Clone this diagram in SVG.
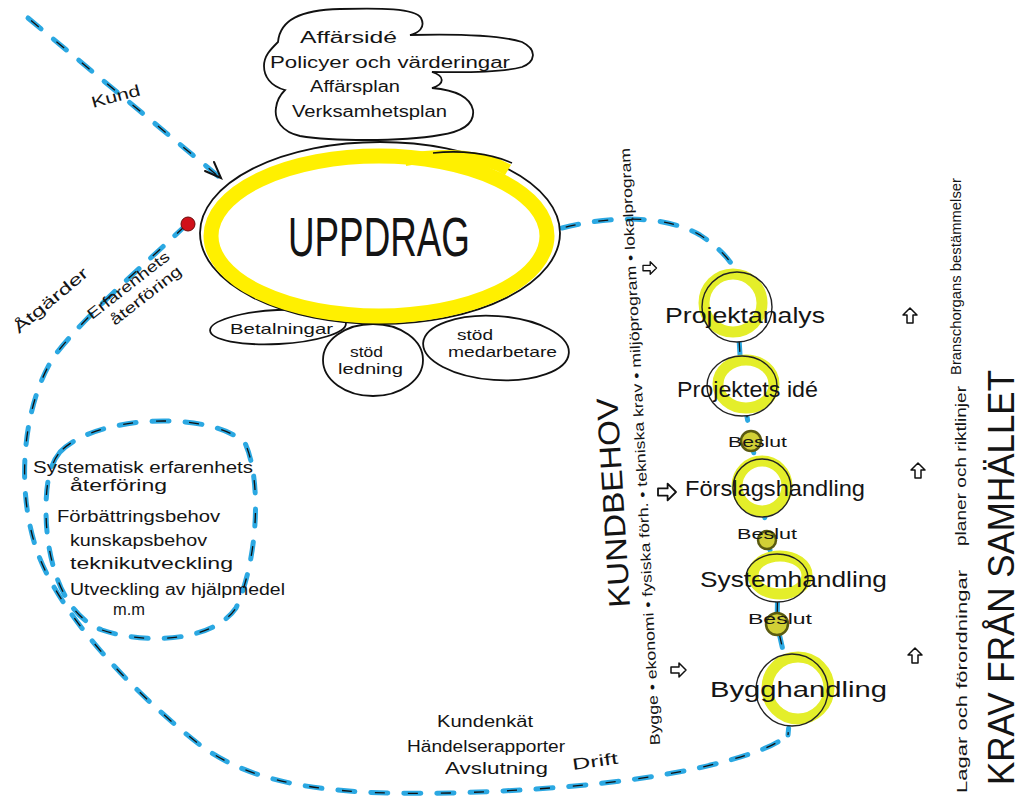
<svg xmlns="http://www.w3.org/2000/svg" xmlns:xlink="http://www.w3.org/1999/xlink" width="1023" height="796" viewBox="0 0 1023 796">
<style>
  text { font-family: 'Liberation Sans', Arial, sans-serif; fill: #141414; }
  .t16 { font-size: 16px; }
  .t15 { font-size: 15px; }
  .t14 { font-size: 14px; }
  .t22 { font-size: 22px; }
  .ln { fill: #fff; stroke: #111; stroke-width: 1.8; }
  .dashB { fill: none; stroke: #2ba8e2; stroke-width: 5; stroke-dasharray: 17 16; stroke-linecap: round; }
  .dashK { fill: none; stroke: #111; stroke-width: 1.3; stroke-dasharray: 0 4 10 19; }
  .ylw { fill: none; stroke: #e4ee2a; stroke-width: 11; }
  .blk { fill: none; stroke: #222; stroke-width: 1.4; }
  .beslut { fill: #d2d036; stroke: #5a5a10; stroke-width: 2.5; }
  .harrow { fill: #fff; stroke: #111; stroke-width: 1.5; stroke-linejoin: round; }
</style>
<defs>
  <path id="pKund" d="M 28,18 L 218,176"/>
  <path id="pLoop" d="M 187,224 C 150,260 90,310 55,355 C 25,400 15,480 35,545 C 55,610 130,690 200,745 C 260,790 350,795 450,793 C 560,790 660,780 730,760 C 765,750 782,742 788,733"/>
  <path id="pSmall" d="M 60,452 C 95,415 210,410 245,443 C 262,480 258,560 236,608 C 214,640 150,646 102,630 C 62,615 46,560 46,510 C 46,482 50,464 60,452 Z"/>
  <path id="pRight" d="M 562,228 C 600,218 660,212 700,235 C 720,248 732,262 736,272"/>
  <path id="pCol" d="M 736,272 L 737,307 L 742,386 L 751,441 L 762,488 L 767,540 L 778,577 L 777,624 L 792,690 L 788,735"/>
  <path id="arr" d="M 0,-3 L 8,-3 L 8,-7 L 15,0 L 8,7 L 8,3 L 0,3 Z"/>
</defs>

<rect x="0" y="0" width="1023" height="796" fill="#ffffff"/>

<g id="connectors">
  <use xlink:href="#pKund" class="dashB"/>
  <use xlink:href="#pKund" class="dashK"/>
  <path d="M 205,171 L 221,178 L 214,162" fill="none" stroke="#111" stroke-width="2" stroke-linecap="round"/>
  <use xlink:href="#pLoop" class="dashB"/>
  <use xlink:href="#pLoop" class="dashK"/>
  <use xlink:href="#pSmall" class="dashB"/>
  <use xlink:href="#pSmall" class="dashK"/>
  <use xlink:href="#pRight" class="dashB"/>
  <use xlink:href="#pRight" class="dashK"/>
  <use xlink:href="#pCol" class="dashB"/>
  <use xlink:href="#pCol" class="dashK"/>
</g>

<g id="cloud">
  <path d="M 278,42 C 280,20 300,10 340,9 C 380,8 415,8 421,18 C 426,28 418,33 410,35 C 450,34 500,35 522,42 C 538,50 535,62 522,67 C 500,73 460,72 432,72 C 445,76 445,84 432,88 C 455,90 470,96 473,110 C 475,125 460,132 440,135 C 400,142 330,141 300,136 C 282,132 274,120 276,108 C 277,98 282,93 285,90 C 270,86 264,76 264,66 C 264,56 270,50 278,42 Z" class="ln"/>
  <text class="t16" x="300" y="43" textLength="97" lengthAdjust="spacingAndGlyphs">Affärsidé</text>
  <text class="t16" x="270" y="68" textLength="240" lengthAdjust="spacingAndGlyphs">Policyer och värderingar</text>
  <text class="t16" x="310" y="92" textLength="90" lengthAdjust="spacingAndGlyphs">Affärsplan</text>
  <text class="t16" x="292" y="117" textLength="155" lengthAdjust="spacingAndGlyphs">Verksamhetsplan</text>
</g>

<g id="bubble-ledning">
  <ellipse cx="373" cy="360" rx="50" ry="36" class="ln"/>
  <text class="t15" x="350" y="357" textLength="33" lengthAdjust="spacingAndGlyphs">stöd</text>
  <text class="t15" x="338" y="374" textLength="65" lengthAdjust="spacingAndGlyphs">ledning</text>
</g>
<g id="bubble-medarbetare">
  <ellipse cx="496" cy="348" rx="73" ry="32" transform="rotate(4 496 348)" class="ln"/>
  <text class="t15" x="457" y="340" textLength="36" lengthAdjust="spacingAndGlyphs">stöd</text>
  <text class="t15" x="448" y="357" textLength="109" lengthAdjust="spacingAndGlyphs">medarbetare</text>
</g>
<g id="bubble-betalningar">
  <ellipse cx="278" cy="327" rx="68" ry="17" transform="rotate(-3 278 327)" class="ln"/>
  <text class="t15" x="230" y="334" textLength="103" lengthAdjust="spacingAndGlyphs">Betalningar</text>
</g>

<g id="uppdrag">
  <ellipse cx="380" cy="233" rx="180" ry="91" fill="#fff" stroke="#111" stroke-width="1.8"/>
  <ellipse cx="379" cy="236" rx="168" ry="80" fill="none" stroke="#fff000" stroke-width="15"/>
  <path d="M 405,160 C 445,152 485,156 508,170" fill="none" stroke="#fff000" stroke-width="12"/>
  <path d="M 433,153 C 460,150 490,153 512,163" fill="none" stroke="#111" stroke-width="1.6"/>
  <text x="288" y="256" style="font-size:56px" textLength="182" lengthAdjust="spacingAndGlyphs">UPPDRAG</text>
</g>

<g id="reddot">
  <circle cx="188" cy="224" r="7" fill="#d0101a" stroke="#6a0a0a" stroke-width="1"/>
</g>

<g id="labels-left">
  <text class="t16" transform="translate(93,108) rotate(-15)" textLength="50" lengthAdjust="spacingAndGlyphs">Kund</text>
  <text class="t16" transform="translate(19,334) rotate(-40)" textLength="92" lengthAdjust="spacingAndGlyphs">Åtgärder</text>
  <text class="t15" transform="translate(92,320) rotate(-38)" textLength="100" lengthAdjust="spacingAndGlyphs">Erfarenhets</text>
  <text class="t15" transform="translate(115,326) rotate(-38)" textLength="86" lengthAdjust="spacingAndGlyphs">återföring</text>
</g>

<g id="erfarenhet-block">
  <text class="t16" x="33" y="473" textLength="220" lengthAdjust="spacingAndGlyphs">Systematisk erfarenhets</text>
  <text class="t16" x="70" y="491" textLength="97" lengthAdjust="spacingAndGlyphs">återföring</text>
  <text class="t16" x="57" y="522" textLength="163" lengthAdjust="spacingAndGlyphs">Förbättringsbehov</text>
  <text class="t16" x="70" y="546" textLength="137" lengthAdjust="spacingAndGlyphs">kunskapsbehov</text>
  <text class="t16" x="70" y="569" textLength="163" lengthAdjust="spacingAndGlyphs">teknikutveckling</text>
  <text class="t16" x="70" y="595" textLength="215" lengthAdjust="spacingAndGlyphs">Utveckling av hjälpmedel</text>
  <text class="t16" x="113" y="615" textLength="32" lengthAdjust="spacingAndGlyphs">m.m</text>
</g>

<g id="drift-block">
  <text class="t16" x="437" y="727" textLength="96" lengthAdjust="spacingAndGlyphs">Kundenkät</text>
  <text class="t16" x="407" y="752" textLength="158" lengthAdjust="spacingAndGlyphs">Händelserapporter</text>
  <text class="t16" x="445" y="774" textLength="103" lengthAdjust="spacingAndGlyphs">Avslutning</text>
  <text class="t16" transform="translate(573,770) rotate(-8)" textLength="46" lengthAdjust="spacingAndGlyphs">Drift</text>
</g>

<g id="node-projektanalys">
  <circle cx="737" cy="307" r="35" fill="#fff"/>
  <circle cx="733" cy="303" r="29" class="ylw" stroke-width="12"/>
  <circle cx="737" cy="307" r="35" class="blk"/>
  <text class="t22" x="665" y="323" textLength="160" lengthAdjust="spacingAndGlyphs">Projektanalys</text>
</g>
<g id="node-projektets-ide">
  <ellipse cx="742" cy="386" rx="35" ry="30" fill="#fff"/>
  <ellipse cx="746" cy="384" rx="28" ry="24" class="ylw"/>
  <ellipse cx="742" cy="386" rx="35" ry="30" class="blk"/>
  <text class="t22" x="677" y="397" textLength="141" lengthAdjust="spacingAndGlyphs">Projektets idé</text>
</g>
<g id="node-beslut1">
  <circle cx="751" cy="441" r="10" class="beslut"/>
  <text class="t15" x="728" y="447" textLength="59" lengthAdjust="spacingAndGlyphs">Beslut</text>
</g>
<g id="node-forslagshandling">
  <circle cx="762" cy="488" r="29" fill="#fff"/>
  <circle cx="762" cy="486" r="25" class="ylw" stroke-width="10"/>
  <circle cx="762" cy="488" r="29" class="blk"/>
  <text class="t22" x="685" y="496" textLength="180" lengthAdjust="spacingAndGlyphs">Förslagshandling</text>
</g>
<g id="node-beslut2">
  <circle cx="767" cy="540" r="9" class="beslut"/>
  <text class="t15" x="737" y="539" textLength="60" lengthAdjust="spacingAndGlyphs">Beslut</text>
</g>
<g id="node-systemhandling">
  <ellipse cx="777" cy="578" rx="31" ry="24" fill="#fff"/>
  <ellipse cx="780" cy="575" rx="27" ry="19" class="ylw" stroke-width="10"/>
  <ellipse cx="777" cy="578" rx="31" ry="24" class="blk"/>
  <text class="t22" x="700" y="587" textLength="187" lengthAdjust="spacingAndGlyphs">Systemhandling</text>
</g>
<g id="node-beslut3">
  <circle cx="777" cy="624" r="11" class="beslut"/>
  <text class="t15" x="748" y="624" textLength="64" lengthAdjust="spacingAndGlyphs">Beslut</text>
</g>
<g id="node-bygghandling">
  <circle cx="792" cy="690" r="36" fill="#fff"/>
  <circle cx="798" cy="688" r="31" class="ylw" stroke-width="12"/>
  <circle cx="792" cy="690" r="36" class="blk"/>
  <text class="t22" x="710" y="697" textLength="177" lengthAdjust="spacingAndGlyphs">Bygghandling</text>
</g>

<g id="kundbehov">
  <text transform="translate(630,607) rotate(-93.5)" style="font-size:30px" textLength="210" lengthAdjust="spacingAndGlyphs">KUNDBEHOV</text>
  <text class="t14" transform="translate(660,745) rotate(-92.9)" textLength="598" lengthAdjust="spacingAndGlyphs">Bygge • ekonomi • fysiska förh. • tekniska krav • miljöprogram • lokalprogram</text>
  <use xlink:href="#arr" class="harrow" transform="translate(643,268) scale(0.9)"/>
  <use xlink:href="#arr" class="harrow" transform="translate(658,492) scale(1.2)"/>
  <use xlink:href="#arr" class="harrow" transform="translate(671,670) scale(1.0)"/>
</g>

<g id="krav">
  <text transform="translate(1014,785) rotate(-90)" style="font-size:36px" textLength="415" lengthAdjust="spacingAndGlyphs">KRAV FRÅN SAMHÄLLET</text>
  <text class="t15" transform="translate(967,793) rotate(-90)" textLength="223" lengthAdjust="spacingAndGlyphs">Lagar och förordningar</text>
  <text class="t15" transform="translate(966,546) rotate(-90)" textLength="160" lengthAdjust="spacingAndGlyphs">planer och riktlinjer</text>
  <text class="t15" transform="translate(961,375) rotate(-90)" textLength="197" lengthAdjust="spacingAndGlyphs">Branschorgans bestämmelser</text>
  <use xlink:href="#arr" class="harrow" transform="translate(910,323) rotate(-90) scale(1.0)"/>
  <use xlink:href="#arr" class="harrow" transform="translate(918,478) rotate(-90) scale(1.0)"/>
  <use xlink:href="#arr" class="harrow" transform="translate(915,663) rotate(-90) scale(1.0)"/>
</g>
</svg>
